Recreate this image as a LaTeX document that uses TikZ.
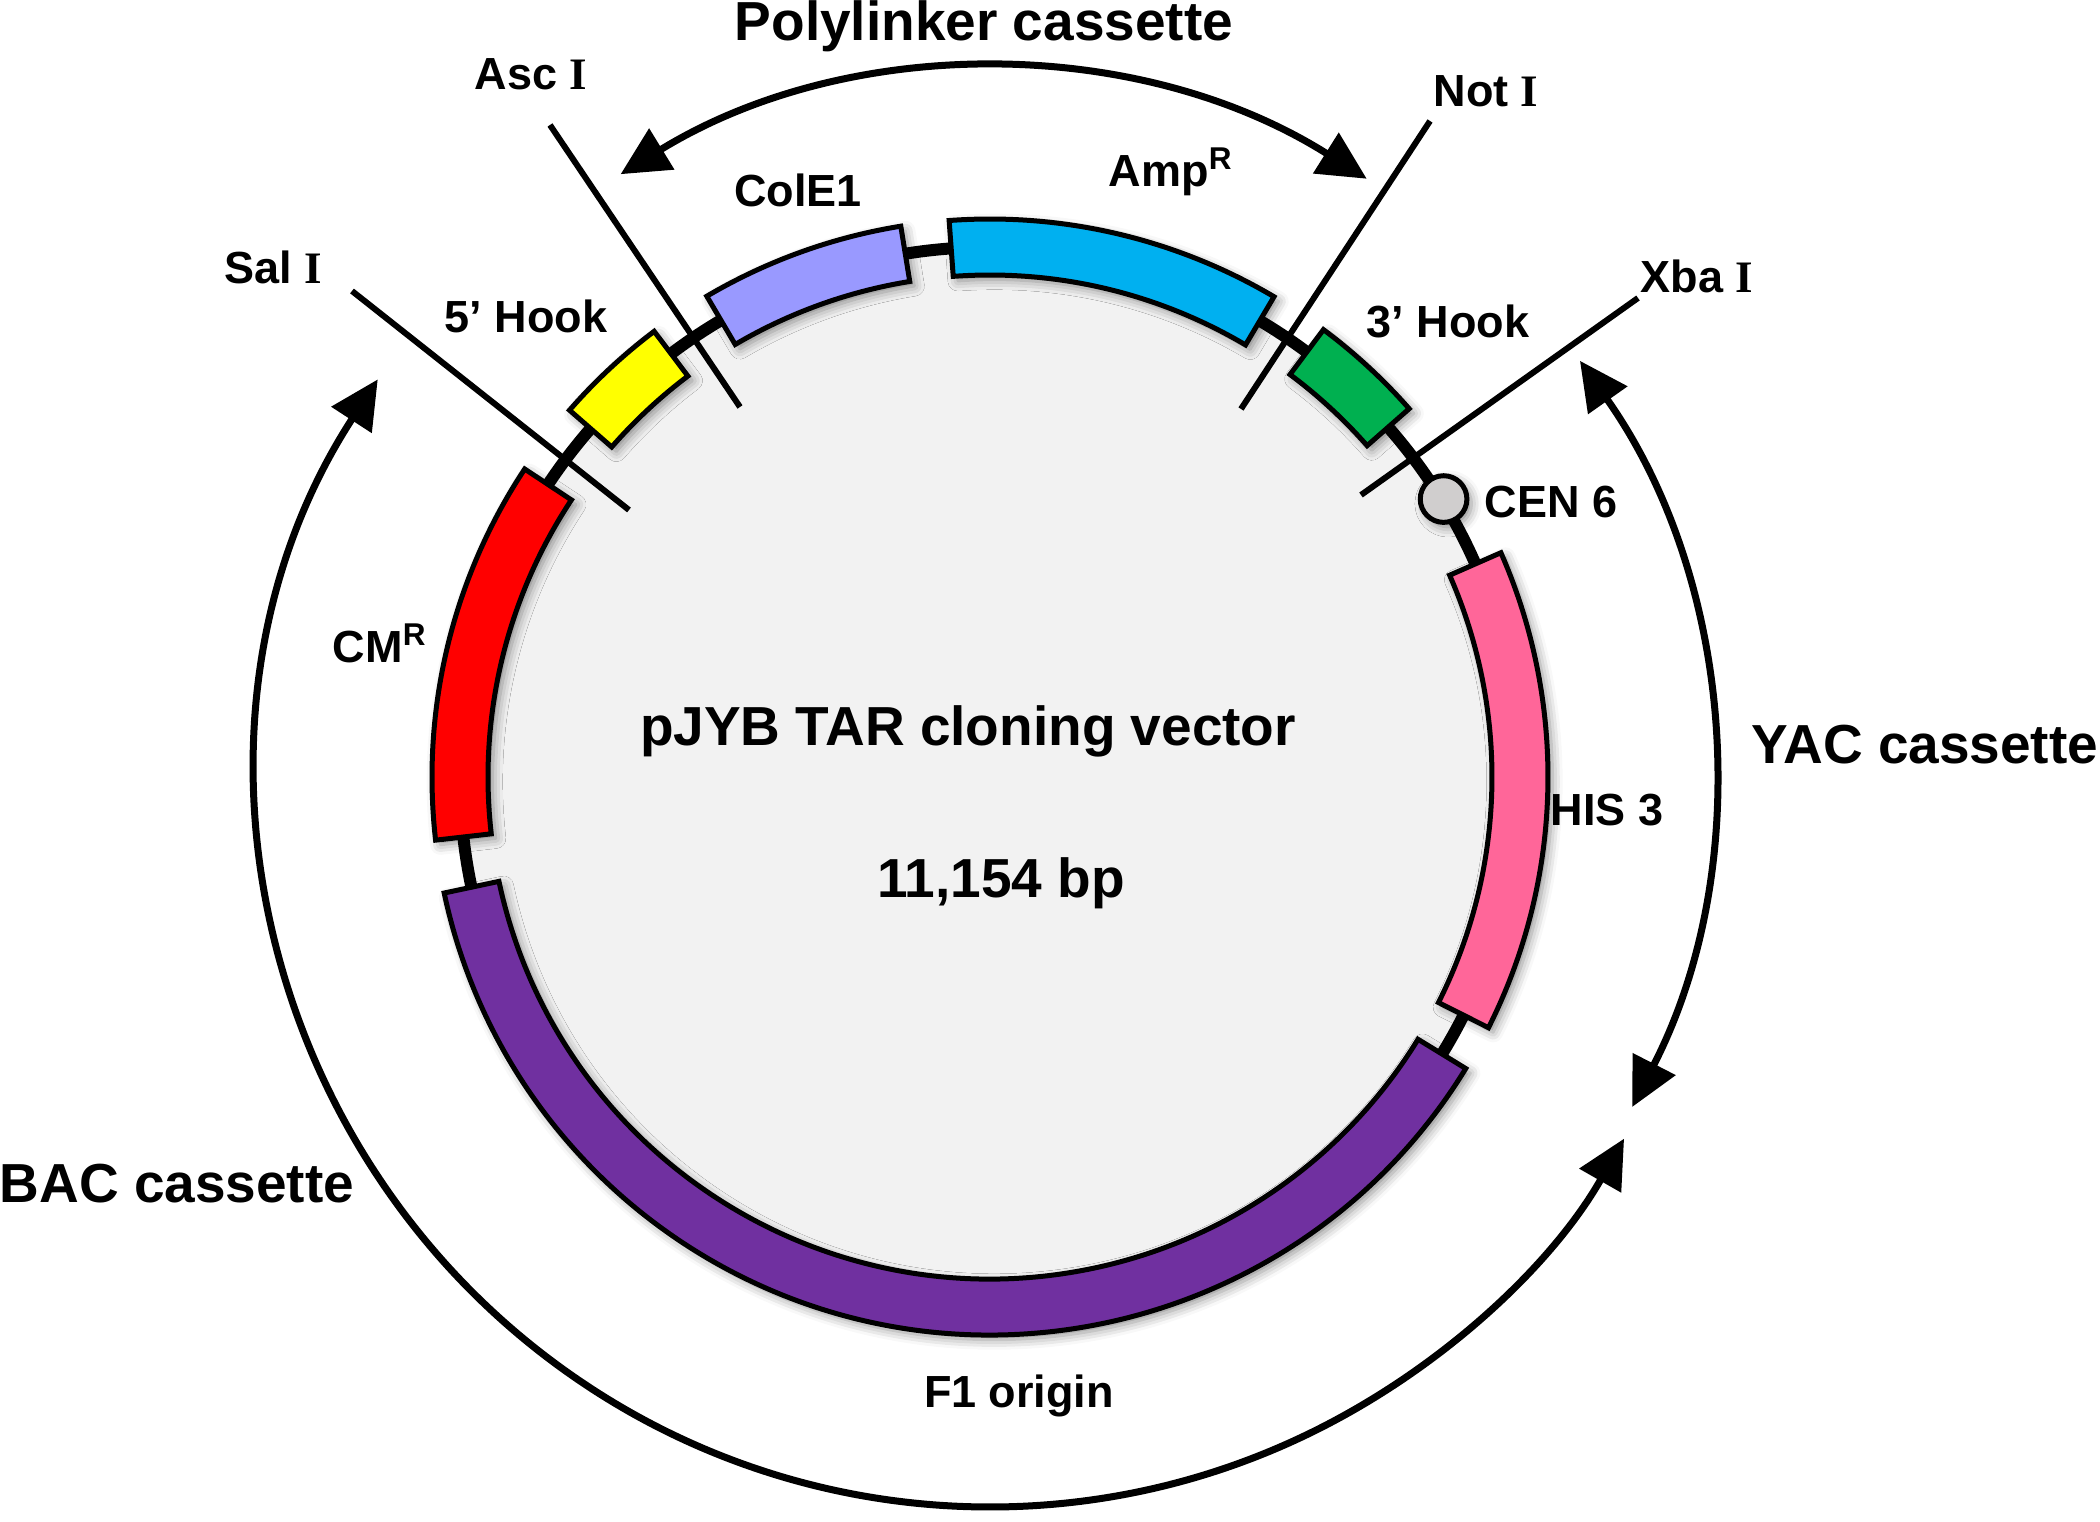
\documentclass[tikz,border=0pt]{standalone}
\usepackage{fontspec}
\setmainfont{Liberation Sans}
\newfontfamily\romanfont{Liberation Serif}
\usetikzlibrary{arrows.meta}
\usetikzlibrary{shadows.blur}
\definecolor{disc}{HTML}{F2F2F2}
\definecolor{cmr}{HTML}{FF0000}
\definecolor{fone}{HTML}{7030A0}
\definecolor{his}{HTML}{FF6699}
\definecolor{cen}{HTML}{D0CECE}
\definecolor{hookthree}{HTML}{00B050}
\definecolor{amp}{HTML}{00B0F0}
\definecolor{cole}{HTML}{9999FF}
\definecolor{hookfive}{HTML}{FFFF00}
\tikzstyle{backbone}=[draw, line width=3.6pt, fill=disc]
\tikzstyle{gene}=[draw, line width=1.5pt, blur shadow={shadow xshift=1.4pt, shadow yshift=-1.4pt, shadow blur radius=3pt, shadow opacity=45}]
\tikzstyle{centro}=[gene, circle, fill=cen, inner sep=0pt, minimum size=14pt]
\tikzstyle{site}=[line width=1.8pt]
\tikzstyle{cassette}=[line width=2.1pt, opacity=1, >={Triangle[length=14.5pt, width=14pt, fill=black]}, <->]
\tikzstyle{lbl}=[font=\fontsize{13.5}{16}\selectfont\bfseries, inner sep=0pt, anchor=base]
\tikzstyle{biglbl}=[font=\fontsize{16.5}{19}\selectfont\bfseries, inner sep=0pt, anchor=base]
\newcommand{\genebox}[3]{\path[gene, fill=#3] (#1:502) arc[start angle=#1, end angle=#2, radius=502] -- (#2:558) arc[start angle=#2, end angle=#1, radius=558] -- cycle;}
\newcommand{\enz}{{\romanfont\bfseries I}}

\begin{document}
\begin{tikzpicture}[x=0.3pt, y=0.3pt]
        \useasboundingbox (-990,-744) rectangle (1110,777);
        \path[backbone] (0,0) circle[radius=530];
        \genebox{146.5}{186.5}{cmr}
        \genebox{192}{328.5}{fone}
        \genebox{-26.7}{23.7}{his}
        \genebox{41.3}{53.3}{hookthree}
        \genebox{59.4}{94.2}{amp}
        \genebox{99.2}{120.5}{cole}
        \genebox{127}{138.9}{hookfive}
        \node[centro]                      (cen6)    at (31.5:532) {};
        \coordinate (sal-in)  at (-361,267);
        \coordinate (sal-out) at (-638,486);
        \coordinate (asc-in)  at (-250,370);
        \coordinate (asc-out) at (-440,652);
        \coordinate (not-in)  at (251,368);
        \coordinate (not-out) at (440,656);
        \coordinate (xba-in)  at (371,282);
        \coordinate (xba-out) at (648,479);
        \draw[site] (sal-in) -- (sal-out);
        \draw[site] (asc-in) -- (asc-out);
        \draw[site] (not-in) -- (not-out);
        \draw[site] (xba-in) -- (xba-out);
        \draw[cassette] (121.5:707) arc[start angle=121.5, end angle=57.8, radius=707];
        \draw[cassette] (147:730) arc[start angle=147, end angle=330.3, radius=730];
        \draw[cassette] (35.2:722) arc[start angle=35.2, end angle=-27.2, radius=722];
        \node[biglbl]                      (poly)    at (-6,736) {Polylinker cassette};
        \node[lbl]                         (asc)     at (-459,687) {Asc \enz};
        \node[lbl]                         (sal)     at (-717,493) {Sal \enz};
        \node[lbl]                         (hook5)   at (-464,444) {5’ Hook};
        \node[lbl]                         (cole1)   at (-192,570) {ColE1};
        \node[lbl]                         (ampr)    at (181,590) {Amp\textsuperscript{R}};
        \node[lbl]                         (noti)    at (496,670) {Not \enz};
        \node[lbl]                         (hook3)   at (458,439) {3’ Hook};
        \node[lbl]                         (xba)     at (707,484) {Xba \enz};
        \node[lbl]                         (cenlbl)  at (561,259) {CEN 6};
        \node[lbl]                         (his3)    at (617,-48) {HIS 3};
        \node[biglbl]                      (yac)     at (935,14) {YAC cassette};
        \node[lbl]                         (cm)      at (-610,114) {CM\textsuperscript{R}};
        \node[biglbl]                      (bac)     at (-813,-425) {BAC cassette};
        \node[lbl]                         (f1)      at (29,-630) {F1 origin};
        \node[biglbl]                      (title)   at (-22,32) {pJYB TAR cloning vector};
        \node[biglbl]                      (size)    at (11,-120) {11,154 bp};
    \end{tikzpicture}
\end{document}
